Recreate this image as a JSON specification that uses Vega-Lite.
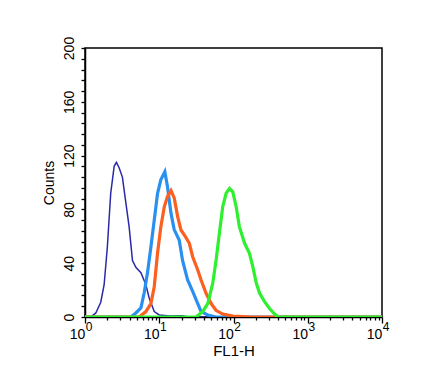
{
  "$schema": "https://vega.github.io/schema/vega-lite/v6.json",
  "width": 297,
  "height": 269,
  "autosize": {"type": "none"},
  "padding": {"left": 85, "top": 48, "right": 44, "bottom": 75},
  "background": "white",
  "config": {
    "view": {"stroke": "black", "strokeWidth": 1.5},
    "font": "Liberation Sans",
    "axis": {"domainColor": "black", "domainWidth": 1.5, "tickColor": "black", "tickWidth": 1.3, "labelColor": "black", "titleColor": "black", "grid": false, "labelFont": "Liberation Sans", "titleFont": "Liberation Sans", "titleFontWeight": "normal"}
  },
  "data": {"values": [
    {"s": "navy", "x": 1, "y": 0},
    {"s": "navy", "x": 1.19, "y": 0},
    {"s": "navy", "x": 1.4, "y": 3},
    {"s": "navy", "x": 1.63, "y": 11},
    {"s": "navy", "x": 1.81, "y": 24},
    {"s": "navy", "x": 2.0, "y": 52},
    {"s": "navy", "x": 2.22, "y": 92},
    {"s": "navy", "x": 2.47, "y": 112},
    {"s": "navy", "x": 2.65, "y": 115},
    {"s": "navy", "x": 2.88, "y": 111},
    {"s": "navy", "x": 3.19, "y": 104},
    {"s": "navy", "x": 3.47, "y": 89},
    {"s": "navy", "x": 3.93, "y": 67},
    {"s": "navy", "x": 4.36, "y": 42},
    {"s": "navy", "x": 4.84, "y": 37},
    {"s": "navy", "x": 5.66, "y": 33},
    {"s": "navy", "x": 6.61, "y": 24},
    {"s": "navy", "x": 7.33, "y": 14},
    {"s": "navy", "x": 8.56, "y": 4},
    {"s": "navy", "x": 10, "y": 1.5},
    {"s": "navy", "x": 14, "y": 0.8},
    {"s": "navy", "x": 20, "y": 1},
    {"s": "navy", "x": 25, "y": 0},
    {"s": "navy", "x": 10000, "y": 0},
    {"s": "blue", "x": 1, "y": 0},
    {"s": "blue", "x": 4.15, "y": 0},
    {"s": "blue", "x": 4.84, "y": 3},
    {"s": "blue", "x": 5.66, "y": 6.7},
    {"s": "blue", "x": 6.27, "y": 18},
    {"s": "blue", "x": 6.95, "y": 33},
    {"s": "blue", "x": 7.72, "y": 52},
    {"s": "blue", "x": 8.56, "y": 72},
    {"s": "blue", "x": 9.49, "y": 92},
    {"s": "blue", "x": 10.5, "y": 102},
    {"s": "blue", "x": 11.9, "y": 108},
    {"s": "blue", "x": 12.9, "y": 97},
    {"s": "blue", "x": 14.4, "y": 77},
    {"s": "blue", "x": 15.9, "y": 65},
    {"s": "blue", "x": 18.6, "y": 57},
    {"s": "blue", "x": 20.6, "y": 42},
    {"s": "blue", "x": 24.1, "y": 27.5},
    {"s": "blue", "x": 28.2, "y": 19},
    {"s": "blue", "x": 33, "y": 10},
    {"s": "blue", "x": 36.6, "y": 4},
    {"s": "blue", "x": 45, "y": 1.5},
    {"s": "blue", "x": 58, "y": 0},
    {"s": "blue", "x": 10000, "y": 0},
    {"s": "orange", "x": 1, "y": 0},
    {"s": "orange", "x": 5.37, "y": 0},
    {"s": "orange", "x": 6.61, "y": 4},
    {"s": "orange", "x": 7.72, "y": 10},
    {"s": "orange", "x": 8.56, "y": 22.5},
    {"s": "orange", "x": 9.49, "y": 47.6},
    {"s": "orange", "x": 10.5, "y": 67},
    {"s": "orange", "x": 11.7, "y": 82},
    {"s": "orange", "x": 12.9, "y": 89.5},
    {"s": "orange", "x": 14.4, "y": 94},
    {"s": "orange", "x": 15.9, "y": 88.5},
    {"s": "orange", "x": 17.7, "y": 74.6},
    {"s": "orange", "x": 19.6, "y": 64.7},
    {"s": "orange", "x": 22.5, "y": 59.7},
    {"s": "orange", "x": 25.4, "y": 54.8},
    {"s": "orange", "x": 28.2, "y": 44.8},
    {"s": "orange", "x": 33, "y": 35},
    {"s": "orange", "x": 36.6, "y": 27.5},
    {"s": "orange", "x": 42.7, "y": 17.6},
    {"s": "orange", "x": 50, "y": 10},
    {"s": "orange", "x": 58, "y": 5},
    {"s": "orange", "x": 71.6, "y": 2.2},
    {"s": "orange", "x": 97.8, "y": 0.7},
    {"s": "orange", "x": 182, "y": 0},
    {"s": "orange", "x": 10000, "y": 0},
    {"s": "green", "x": 1, "y": 0},
    {"s": "green", "x": 31.3, "y": 0},
    {"s": "green", "x": 38.5, "y": 4},
    {"s": "green", "x": 45, "y": 10},
    {"s": "green", "x": 52.5, "y": 25},
    {"s": "green", "x": 58.4, "y": 42.6},
    {"s": "green", "x": 64.6, "y": 62.5},
    {"s": "green", "x": 71.6, "y": 82},
    {"s": "green", "x": 79.6, "y": 92},
    {"s": "green", "x": 88.3, "y": 95.5},
    {"s": "green", "x": 97.8, "y": 93},
    {"s": "green", "x": 108.6, "y": 82},
    {"s": "green", "x": 120, "y": 67.2},
    {"s": "green", "x": 141, "y": 54.8},
    {"s": "green", "x": 164, "y": 47.3},
    {"s": "green", "x": 182, "y": 37.4},
    {"s": "green", "x": 203, "y": 25},
    {"s": "green", "x": 225, "y": 17.6},
    {"s": "green", "x": 262, "y": 11.4},
    {"s": "green", "x": 306, "y": 6.3},
    {"s": "green", "x": 358, "y": 2.2},
    {"s": "green", "x": 398, "y": 0},
    {"s": "green", "x": 10000, "y": 0}
  ]},
  "encoding": {
    "y": {
      "field": "y", "type": "quantitative",
      "scale": {"domain": [0, 200], "nice": false},
      "axis": {
        "title": "Counts", "titleFontSize": 14, "titlePadding": 6,
        "values": [0,8,16,24,32,40,48,56,64,72,80,88,96,104,112,120,128,136,144,152,160,168,176,184,192,200],
        "labelExpr": "datum.value % 40 == 0 ? datum.label : ''",
        "labelAngle": -90, "labelAlign": "center", "labelBaseline": "bottom",
        "labelFontSize": 14, "tickSize": 4, "labelPadding": 5, "labelOverlap": false
      }
    }
  },
  "layer": [
    {
      "transform": [{"filter": "datum.s == 'navy'"}],
      "mark": {"type": "line", "clip": true, "color": "#2a2aa8", "strokeWidth": 1.5},
      "encoding": {
        "x": {
          "field": "x", "type": "quantitative",
          "scale": {"type": "log", "domain": [1, 10000], "nice": false},
          "axis": {
            "orient": "bottom", "title": null,
            "values": [2,3,4,5,6,7,8,9,20,30,40,50,60,70,80,90,200,300,400,500,600,700,800,900,2000,3000,4000,5000,6000,7000,8000,9000],
            "labels": false, "tickSize": 3
          }
        }
      }
    },
    {
      "transform": [{"filter": "datum.s == 'blue'"}],
      "mark": {"type": "line", "clip": true, "color": "#2a90f0", "strokeWidth": 3.2},
      "encoding": {
        "x": {
          "field": "x", "type": "quantitative",
          "scale": {"type": "log", "domain": [1, 10000], "nice": false},
          "axis": {
            "orient": "bottom", "title": "FL1-H", "titleFontSize": 15, "titlePadding": 2, "domain": false,
            "values": [1, 10, 100, 1000, 10000],
            "labelExpr": "'10'",
            "labelFontSize": 14, "tickSize": 6, "labelPadding": 4, "labelOffset": -8, "labelOverlap": false, "labelFlush": false
          }
        }
      }
    },
    {
      "transform": [{"filter": "datum.s == 'orange'"}],
      "mark": {"type": "line", "clip": true, "color": "#fb6020", "strokeWidth": 3.2},
      "encoding": {
        "x": {
          "field": "x", "type": "quantitative",
          "scale": {"type": "log", "domain": [1, 10000], "nice": false},
          "axis": {
            "orient": "bottom", "title": null, "domain": false, "tickColor": "transparent", "tickSize": 6,
            "values": [1, 10, 100, 1000, 10000],
            "labelExpr": "format(log(datum.value) / log(10), '.0f')",
            "labelFontSize": 12, "labelPadding": -2, "labelOffset": 3.5, "labelOverlap": false, "labelFlush": false
          }
        }
      }
    },
    {
      "transform": [{"filter": "datum.s == 'green'"}],
      "mark": {"type": "line", "clip": true, "color": "#2ef02e", "strokeWidth": 3.2},
      "encoding": {
        "x": {
          "field": "x", "type": "quantitative",
          "scale": {"type": "log", "domain": [1, 10000], "nice": false},
          "axis": null
        }
      }
    }
  ],
  "resolve": {"axis": {"x": "independent"}}
}
